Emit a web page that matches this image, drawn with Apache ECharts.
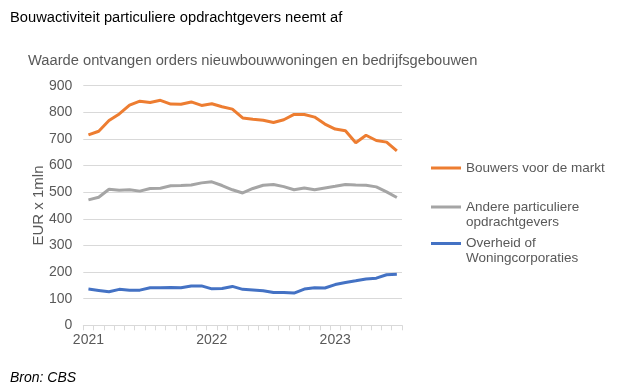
<!DOCTYPE html>
<html>
<head>
<meta charset="utf-8">
<script src="https://cdn.jsdelivr.net/npm/echarts@6/dist/echarts.min.js"></script>
<style>
html,body{margin:0;padding:0;background:#fff;}
#chart{width:620px;height:389px;}
</style>
</head>
<body>
<div id="chart"></div>
<script>
const months = [
  '2021-01','2021-02','2021-03','2021-04','2021-05','2021-06','2021-07','2021-08','2021-09','2021-10','2021-11','2021-12',
  '2022-01','2022-02','2022-03','2022-04','2022-05','2022-06','2022-07','2022-08','2022-09','2022-10','2022-11','2022-12',
  '2023-01','2023-02','2023-03','2023-04','2023-05','2023-06','2023-07'
];
const bouwers = [715,729,769,794,827,842,837,845,831,830,839,826,832,821,812,779,774,770,762,772,792,792,782,756,737,731,686,714,694,688,655];
const andere = [471,481,511,507,509,504,514,515,524,525,527,535,539,525,509,497,514,526,529,521,509,516,509,516,522,529,527,526,520,501,480];
const overheid = [136,131,126,135,132,132,141,141,142,141,148,148,137,138,146,135,133,130,123,123,121,136,141,140,153,161,167,174,177,190,192];
const yTicks = [0,100,200,300,400,500,600,700,800,900];
const seriesNames = ['Bouwers voor de markt','Andere particuliere opdrachtgevers','Overheid of Woningcorporaties'];

const FONT = '"Liberation Sans", Arial, sans-serif';
const chart = echarts.init(document.getElementById('chart'), null, {renderer:'canvas'});

function legendFor(name, color, top, lines){
  return {
    data:[name], left:431, top:top, padding:0, itemWidth:30, itemHeight:3,
    icon:'rect', selectedMode:false,
    itemStyle:{color:color},
    formatter: function(){ return lines; },
    textStyle:{fontFamily:FONT, fontSize:13.5, color:'#595959', lineHeight:15}
  };
}

chart.setOption({
  animation:false,
  backgroundColor:'#fff',
  title:[
    {text:'Bouwactiviteit particuliere opdrachtgevers neemt af', left:10, top:10, padding:0,
     textStyle:{fontFamily:FONT, fontSize:14.7, fontWeight:'normal', color:'#000'}},
    {text:'Waarde ontvangen orders nieuwbouwwoningen en bedrijfsgebouwen', left:28, top:53, padding:0,
     textStyle:{fontFamily:FONT, fontSize:14.7, fontWeight:'normal', color:'#595959'}},
    {text:'Bron: CBS', left:10, top:371, padding:0,
     textStyle:{fontFamily:FONT, fontSize:14, fontWeight:'normal', fontStyle:'italic', color:'#000'}}
  ],
  legend:[
    legendFor(seriesNames[0], '#ED7D31', 160.5, 'Bouwers voor de markt'),
    legendFor(seriesNames[1], '#A5A5A5', 184.5, '\nAndere particuliere\nopdrachtgevers'),
    legendFor(seriesNames[2], '#4472C4', 221, '\nOverheid of\nWoningcorporaties')
  ],
  grid:{left:83.3, right:218, top:85.7, bottom:63.7, containLabel:false},
  xAxis:{
    type:'category', data:months, boundaryGap:true,
    axisLine:{lineStyle:{color:'#D9D9D9', width:1}},
    axisTick:{show:true, interval:0, length:5, lineStyle:{color:'#D9D9D9'}},
    axisLabel:{interval:0, margin:8, fontFamily:FONT, fontSize:14, color:'#595959',
      formatter:function(v){ return v.endsWith('-01') ? v.slice(0,4) : ''; }},
    splitLine:{show:false}
  },
  yAxis:{
    type:'value', min:yTicks[0], max:yTicks[yTicks.length-1], interval:100,
    name:'EUR x 1mln', nameLocation:'middle', nameGap:37, nameMoveOverlap:false,
    nameTextStyle:{fontFamily:FONT, fontSize:15, color:'#595959'},
    axisLine:{show:false}, axisTick:{show:false},
    axisLabel:{margin:11, fontFamily:FONT, fontSize:14, color:'#595959'},
    splitLine:{lineStyle:{color:'#D9D9D9', width:1}}
  },
  series:[
    {name:seriesNames[0], type:'line', data:bouwers, symbol:'none', lineStyle:{color:'#ED7D31', width:3}, itemStyle:{color:'#ED7D31'}},
    {name:seriesNames[1], type:'line', data:andere, symbol:'none', lineStyle:{color:'#A5A5A5', width:3}, itemStyle:{color:'#A5A5A5'}},
    {name:seriesNames[2], type:'line', data:overheid, symbol:'none', lineStyle:{color:'#4472C4', width:3}, itemStyle:{color:'#4472C4'}}
  ]
});
</script>
</body>
</html>
